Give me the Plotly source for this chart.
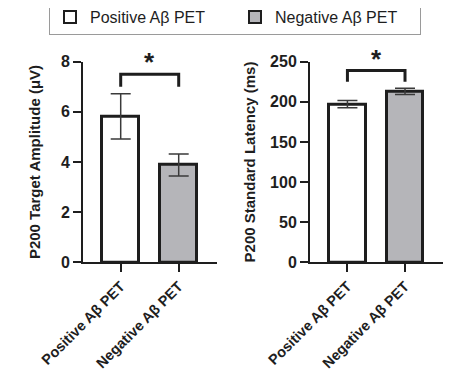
import plotly.graph_objects as go

# ---- data ----
groups = ["Positive Aβ PET", "Negative Aβ PET"]
amp_mean = [5.82, 3.88]
amp_err = [0.9, 0.44]
lat_mean = [197.0, 213.0]
lat_err = [4.5, 4.0]
amp_ticks = [0, 2, 4, 6, 8]
lat_ticks = [0, 50, 100, 150, 200, 250]
amp_bracket = [7.0, 7.5]      # bracket end level, bracket top level
lat_bracket = [225.0, 239.0]
sig_label = "*"

fills = ["#ffffff", "#b5b5b9"]
FONT = "Liberation Sans, Arial, sans-serif"
INK = "#1e1e1e"

fig = go.Figure()

def add_panel(means, errs, xa, ya, show):
    for i, g in enumerate(groups):
        fig.add_trace(go.Bar(
            x=[i], y=[means[i]], name=g, width=0.64,
            marker=dict(color=fills[i], line=dict(color=INK, width=3)),
            error_y=dict(type="data", array=[errs[i]], visible=True,
                         color="#3a3a3a", thickness=1.5, width=10),
            xaxis=xa, yaxis=ya, showlegend=show, cliponaxis=False,
        ))

add_panel(amp_mean, amp_err, "x", "y", True)
add_panel(lat_mean, lat_err, "x2", "y2", False)

def bracket(xref, yref, lv):
    lo, hi = lv
    fig.add_shape(type="path", xref=xref, yref=yref,
                  path=f"M 0,{lo} L 0,{hi} L 1,{hi} L 1,{lo}",
                  line=dict(color=INK, width=3))
    fig.add_annotation(x=0.5, y=hi, xref=xref, yref=yref, text=f"<b>{sig_label}</b>",
                       showarrow=False, yanchor="bottom", yshift=-5,
                       font=dict(size=26, color=INK, family=FONT))

bracket("x", "y", amp_bracket)
bracket("x2", "y2", lat_bracket)

def bold(v):
    return [f"<b>{t}</b>" for t in v]

W, H = 467, 367   # page body adds an 8px margin
ydom = [0.3071, 0.8537]
xcommon = dict(tickmode="array", tickvals=[0, 1], ticktext=bold(groups),
               tickangle=-45, range=[-0.65, 1.66], showline=True, linecolor=INK,
               linewidth=2, ticks="outside", ticklen=8, tickwidth=2, tickcolor=INK,
               showgrid=False, zeroline=False, fixedrange=True, automargin=False,
               tickfont=dict(size=14.5, color=INK, family=FONT))
ycommon = dict(showline=True, linecolor=INK, linewidth=2, ticks="outside", ticklen=8,
               tickwidth=2, tickcolor=INK, showgrid=False, zeroline=False, automargin=False,
               tickfont=dict(size=16, color=INK, family=FONT), domain=ydom)

fig.update_layout(
    width=W, height=H, margin=dict(l=0, r=0, t=0, b=0, autoexpand=False),
    paper_bgcolor="white", plot_bgcolor="white",
    font=dict(family=FONT, color=INK),
    xaxis=dict(domain=[0.1606, 0.4475], anchor="y", **xcommon),
    xaxis2=dict(domain=[0.6467, 0.9315], anchor="y2", **xcommon),
    yaxis=dict(range=[0, 8], tickvals=amp_ticks, ticktext=bold(amp_ticks), anchor="x",
               title=dict(text="<b>P200 Target Amplitude (μV)</b>", font=dict(size=15, family=FONT, color=INK), standoff=17),
               **ycommon),
    yaxis2=dict(range=[0, 250], tickvals=lat_ticks, ticktext=bold(lat_ticks), anchor="x2",
                title=dict(text="<b>P200 Standard Latency (ms)</b>", font=dict(size=15, family=FONT, color=INK), standoff=11),
                **ycommon),
    legend=dict(orientation="h", x=0.0878, xanchor="left", y=1.024, yanchor="top",
                bordercolor="#9a9a9a", borderwidth=1, bgcolor="white",
                font=dict(size=16, family=FONT, color=INK), entrywidth=140,
                itemsizing="constant", traceorder="normal"),
    bargap=0,
)

fig.write_html("out.html")
